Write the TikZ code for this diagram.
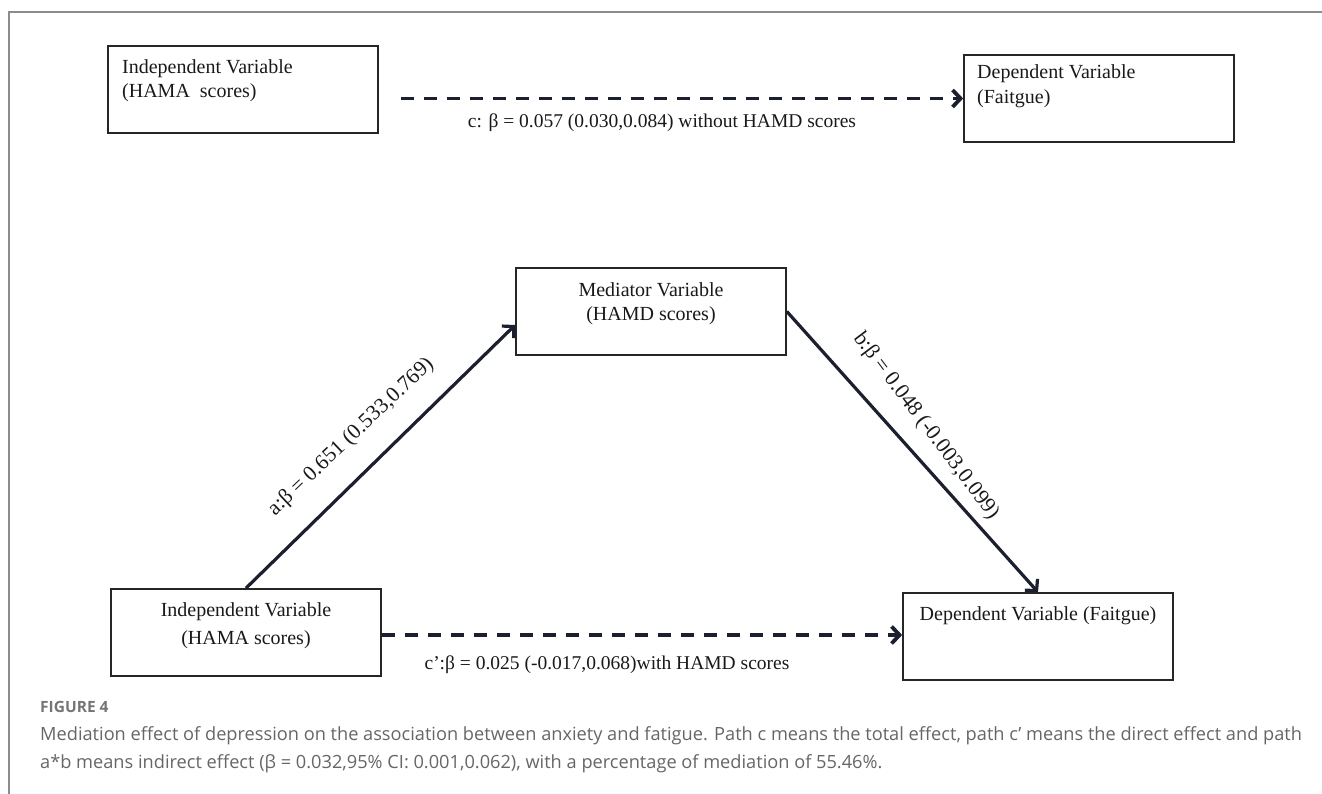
\documentclass[tikz,border=0pt]{standalone}
\usepackage{fontspec}
\setmainfont{Liberation Serif}
\newfontfamily\capfont{Open Sans}
\usetikzlibrary{arrows.meta,calc}
\definecolor{ink}{HTML}{1B1F2E}
\definecolor{framegray}{HTML}{8C8C8C}
\definecolor{capgray}{HTML}{666666}
\begin{document}
\begin{tikzpicture}[x=1pt,y=-1pt,
  box/.style={draw=black!85, line width=1.7pt, rectangle, minimum width=270pt, minimum height=87pt, inner sep=0pt},
  txt/.style={font=\fontsize{20}{24}\selectfont, inner sep=0pt, text=black!90},
  lab/.style={font=\fontsize{19.5}{22}\selectfont, inner sep=0pt, text=black!90},
  rlab/.style={font=\fontsize{21.5}{24}\selectfont, inner sep=0pt, text=black!90},
  solidarrow/.style={draw=ink, line width=3.2pt, -{Straight Barb[length=8pt,width=17pt]}},
  dasharrow/.style={draw=ink, line width=3.8pt, dash pattern=on 13pt off 10pt, -{Straight Barb[length=8pt,width=17pt]}},
  frameline/.style={draw=framegray, line width=1.4pt}
]
\useasboundingbox (0,0) rectangle (1322,794);
% frame
\coordinate (ftl) at (9,12);
\coordinate (ftr) at (1322,12);
\coordinate (fbl) at (9,794);
\draw[frameline] (ftr) -- (ftl) -- (fbl);

% top row
\node[box] (iv1) at (243,89.5) {};
\node[txt, anchor=north west, align=left] (iv1t) at (122,59.5) {Independent Variable\\(HAMA~~scores)};
\node[box] (dv1) at (1099,98.5) {};
\node[txt, anchor=north west, align=left, font=\fontsize{20}{25}\selectfont] (dv1t) at (977,64.5) {Dependent Variable\\(Faitgue)};
\draw[dasharrow] ([xshift=22pt]iv1.east |- dv1.west) -- (dv1.west);
\node[lab] (clab) at (662,123) {c: β = 0.057 (0.030,0.084) without HAMD scores};

% mediation triangle
\node[box] (med) at (651,311.5) {};
\node[txt, anchor=north, align=center] (medt) at (651,282.5) {Mediator Variable\\(HAMD scores)};
\node[box] (iv2) at (246,632.5) {};
\node[txt, anchor=north, align=center, font=\fontsize{20}{28}\selectfont] (iv2t) at (246,602.5) {Independent Variable\\(HAMA scores)};
\node[box] (dv2) at (1038,636.5) {};
\node[txt, anchor=north] (dv2t) at (1038,606) {Dependent Variable (Faitgue)};

\draw[solidarrow] (iv2.north) -- ([yshift=-13.5pt]med.west);
\draw[solidarrow] (med.east) -- (dv2.north);
\draw[dasharrow] (iv2.east |- 0,635) -- (dv2.west |- 0,635);

\node[rlab, rotate=43.5] (alab) at (351,437) {a:β = 0.651 (0.533,0.769)};
\node[rlab, rotate=-53] (blab) at (926,426) {b:β = 0.048 (-0.003,0.099)};
\node[lab] (c2lab) at (607,665) {c’:β = 0.025 (-0.017,0.068)with HAMD scores};

% caption
\node[anchor=west, inner sep=0pt, font=\capfont\fontsize{15.5}{18}\selectfont\bfseries, text=capgray!90] (fig) at (40,707) {FIGURE 4};
\node[anchor=north west, inner sep=0pt, align=left, font=\capfont\fontsize{18.2}{28}\selectfont, text=capgray] (cap) at (40,726) {Mediation effect of depression on the association between anxiety and fatigue. Path c means the total effect, path c’ means the direct effect and path\\a*b means indirect effect (β = 0.032,95\% CI: 0.001,0.062), with a percentage of mediation of 55.46\%.};
\end{tikzpicture}
\end{document}
